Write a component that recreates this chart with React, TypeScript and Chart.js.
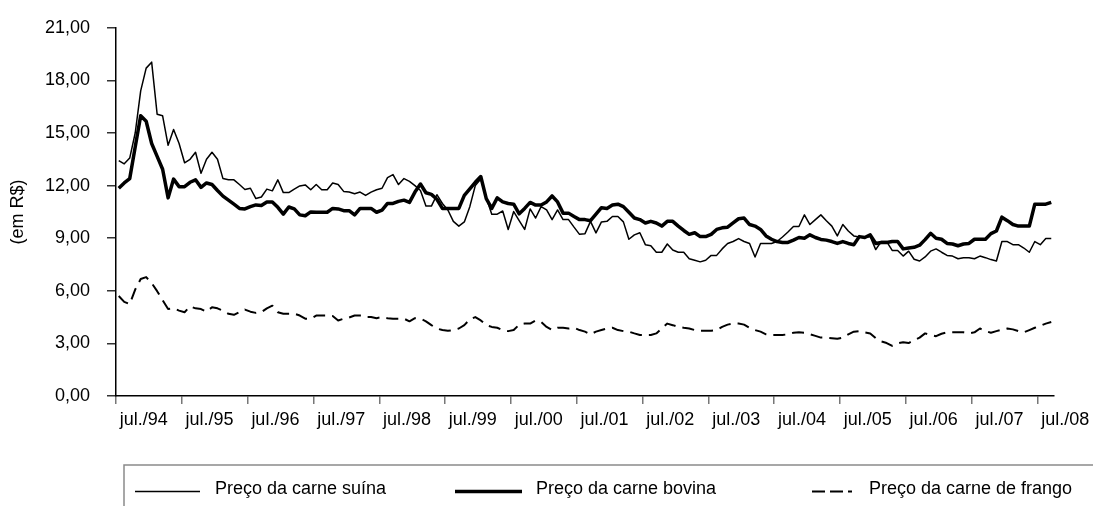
import React, { useEffect, useRef } from 'react';
import { Chart, registerables } from 'chart.js';

Chart.register(...registerables);

// ---- categories (monthly, jul./94 ... set./08) ----
const MONTH_ABBR = ['jan.', 'fev.', 'mar.', 'abr.', 'mai.', 'jun.', 'jul.', 'ago.', 'set.', 'out.', 'nov.', 'dez.'];
const FIRST_MONTH = 6; // julho
const FIRST_YEAR = 1994;
const N_MONTHS = 171;
const categories: string[] = Array.from({ length: N_MONTHS }, (_, i) => {
  const m = (FIRST_MONTH + i) % 12;
  const y = FIRST_YEAR + Math.floor((FIRST_MONTH + i) / 12);
  return `${MONTH_ABBR[m]}/${String(y % 100).padStart(2, '0')}`;
});
const LABEL_EVERY = 12;

// ---- y axis ticks ----
const Y_MIN = 0;
const Y_MAX = 21;
const Y_STEP = 3;
const Y_TITLE = '(em R$)';

// ---- series ----
const SERIES_NAMES = ['Preço da carne suína', 'Preço da carne bovina', 'Preço da carne de frango'];

const suina = [
  13.43, 13.24, 13.57, 15.0, 17.4, 18.7, 19.04, 16.07, 15.98, 14.3, 15.2, 14.4,
  13.3, 13.5, 13.9, 12.7, 13.5, 13.9, 13.5, 12.4, 12.33, 12.33, 12.06, 11.78,
  11.85, 11.26, 11.35, 11.8, 11.7, 12.33, 11.6, 11.6, 11.8, 11.98, 12.04, 11.76,
  12.06, 11.76, 11.76, 12.15, 12.06, 11.67, 11.63, 11.54, 11.63, 11.44, 11.63, 11.76,
  11.85, 12.46, 12.63, 12.06, 12.4, 12.24, 12.0, 11.72, 10.83, 10.83, 11.48, 10.98,
  10.61, 9.96, 9.69, 9.93, 10.8, 12.0, 12.37, 11.3, 10.37, 10.37, 10.55, 9.5,
  10.52, 10.0, 9.5, 10.67, 10.15, 10.8, 10.61, 10.06, 10.61, 10.06, 10.06, 9.63,
  9.22, 9.26, 9.96, 9.3, 9.93, 9.96, 10.24, 10.24, 9.93, 8.94, 9.19, 9.31,
  8.63, 8.57, 8.2, 8.2, 8.67, 8.33, 8.2, 8.2, 7.83, 7.74, 7.65, 7.74,
  8.02, 8.02, 8.39, 8.7, 8.81, 8.98, 8.81, 8.7, 7.93, 8.7, 8.7, 8.7,
  8.81, 9.07, 9.35, 9.67, 9.67, 10.33, 9.78, 10.06, 10.33, 10.0, 9.69, 9.13,
  9.78, 9.41, 9.13, 9.07, 9.04, 9.09, 8.35, 8.81, 8.81, 8.3, 8.3, 7.98,
  8.26, 7.8, 7.7, 7.93, 8.26, 8.39, 8.2, 8.02, 7.98, 7.83, 7.89, 7.89,
  7.83, 7.98, 7.89, 7.78, 7.7, 8.81, 8.81, 8.63, 8.63, 8.44, 8.2, 8.81,
  8.63, 8.98, 8.98,
];

const bovina = [
  11.85, 12.15, 12.4, 14.2, 15.98, 15.67, 14.4, 13.67, 12.93, 11.3, 12.37, 11.94,
  11.94, 12.19, 12.33, 11.9, 12.15, 12.06, 11.72, 11.4, 11.17, 10.94, 10.7, 10.67,
  10.8, 10.9, 10.87, 11.07, 11.07, 10.76, 10.37, 10.78, 10.67, 10.33, 10.28, 10.5,
  10.48, 10.48, 10.48, 10.7, 10.67, 10.57, 10.57, 10.33, 10.7, 10.7, 10.7, 10.48,
  10.6, 10.98, 10.98, 11.1, 11.17, 11.04, 11.63, 12.09, 11.59, 11.5, 11.22, 10.7,
  10.7, 10.7, 10.7, 11.44, 11.81, 12.19, 12.52, 11.26, 10.7, 11.3, 11.07, 10.98,
  10.94, 10.39, 10.7, 11.04, 10.89, 10.89, 11.07, 11.41, 11.07, 10.43, 10.43, 10.24,
  10.06, 10.06, 10.0, 10.37, 10.74, 10.7, 10.89, 10.94, 10.8, 10.48, 10.15, 10.06,
  9.87, 9.96, 9.87, 9.69, 9.96, 9.96, 9.69, 9.44, 9.22, 9.31, 9.09, 9.09,
  9.22, 9.5, 9.59, 9.63, 9.87, 10.11, 10.15, 9.78, 9.69, 9.5, 9.13, 8.94,
  8.81, 8.76, 8.76, 8.89, 9.04, 9.0, 9.19, 9.04, 8.93, 8.89, 8.81, 8.7,
  8.81, 8.7, 8.63, 9.09, 9.04, 9.19, 8.7, 8.76, 8.76, 8.81, 8.81, 8.39,
  8.44, 8.48, 8.6, 8.92, 9.28, 9.0, 8.94, 8.7, 8.67, 8.57, 8.67, 8.7,
  8.94, 8.94, 8.94, 9.26, 9.41, 10.2, 10.0, 9.78, 9.69, 9.69, 9.69, 10.94,
  10.94, 10.94, 11.04,
];

const frango = [
  5.7, 5.37, 5.24, 6.07, 6.67, 6.78, 6.44, 5.98, 5.46, 4.96, 5.0, 4.87,
  4.78, 5.11, 5.0, 4.96, 4.81, 5.06, 5.0, 4.87, 4.69, 4.63, 4.78, 4.93,
  4.81, 4.74, 4.78, 5.0, 5.15, 4.78, 4.69, 4.69, 4.69, 4.59, 4.41, 4.41,
  4.59, 4.59, 4.59, 4.56, 4.31, 4.41, 4.48, 4.59, 4.59, 4.5, 4.5, 4.44,
  4.5, 4.44, 4.41, 4.41, 4.41, 4.26, 4.44, 4.41, 4.26, 4.04, 3.85, 3.76,
  3.72, 3.76, 3.85, 4.04, 4.37, 4.5, 4.31, 4.04, 3.94, 3.89, 3.76, 3.7,
  3.76, 4.07, 4.13, 4.13, 4.31, 4.22, 3.94, 3.76, 3.89, 3.89, 3.85, 3.89,
  3.76, 3.67, 3.52, 3.67, 3.76, 3.85, 3.89, 3.76, 3.7, 3.67, 3.57, 3.48,
  3.48, 3.48, 3.57, 3.85, 4.13, 4.04, 3.94, 3.89, 3.85, 3.76, 3.72, 3.72,
  3.72, 3.76, 3.94, 4.07, 4.13, 4.13, 4.07, 3.89, 3.76, 3.67, 3.52, 3.48,
  3.48, 3.48, 3.52, 3.61, 3.63, 3.61, 3.52, 3.43, 3.33, 3.33, 3.3, 3.26,
  3.33, 3.52, 3.67, 3.7, 3.63, 3.57, 3.3, 3.11, 3.02, 2.86, 3.0, 3.07,
  3.02, 3.18, 3.33, 3.57, 3.48, 3.41, 3.55, 3.63, 3.63, 3.63, 3.63, 3.57,
  3.63, 3.85, 3.7, 3.61, 3.7, 3.78, 3.85, 3.8, 3.7, 3.63, 3.76, 3.89,
  4.0, 4.13, 4.22,
];

const FONT_FAMILY = '"Liberation Sans", Arial, sans-serif';
const FONT_SIZE = 18;

const STYLES = [
  { width: 1.5, dash: [] as number[] },
  { width: 3.5, dash: [] as number[] },
  { width: 2, dash: [12, 7] },
];

// Legend drawn in a framed box below the plot
const boxLegend = {
  id: 'boxLegend',
  afterDraw(chart: any) {
    const ctx: CanvasRenderingContext2D = chart.ctx;
    ctx.save();
    // frame
    ctx.strokeStyle = '#8a8a8a';
    ctx.lineWidth = 1.5;
    ctx.beginPath();
    ctx.moveTo(124, 530);
    ctx.lineTo(124, 465);
    ctx.lineTo(1100, 465);
    ctx.stroke();

    const items = [
      { x0: 135, x1: 200, tx: 215, legendDash: [] as number[] },
      { x0: 455, x1: 522, tx: 536, legendDash: [] as number[] },
      { x0: 812, x1: 852, tx: 869, legendDash: [13, 5] },
    ];
    ctx.font = `${FONT_SIZE}px ${FONT_FAMILY}`;
    ctx.textBaseline = 'alphabetic';
    ctx.textAlign = 'left';
    ctx.fillStyle = '#000';
    items.forEach((it, i) => {
      ctx.strokeStyle = '#000';
      ctx.lineWidth = STYLES[i].width;
      ctx.setLineDash(it.legendDash);
      ctx.beginPath();
      ctx.moveTo(it.x0, 491.5);
      ctx.lineTo(it.x1, 491.5);
      ctx.stroke();
      ctx.setLineDash([]);
      ctx.fillText(SERIES_NAMES[i], it.tx, 494);
    });
    ctx.restore();
  },
};

export default function App() {
  const canvasRef = useRef<HTMLCanvasElement | null>(null);

  useEffect(() => {
    const canvas = canvasRef.current;
    if (!canvas) return;
    const seriesData = [suina, bovina, frango];
    const chart = new Chart(canvas, {
      type: 'line',
      data: {
        labels: categories,
        datasets: seriesData.map((d, i) => ({
          label: SERIES_NAMES[i],
          data: d,
          borderColor: '#000',
          backgroundColor: '#000',
          borderWidth: STYLES[i].width,
          borderDash: STYLES[i].dash,
          pointRadius: 0,
          pointHoverRadius: 0,
          tension: 0,
          fill: false,
          borderJoinStyle: 'round' as const,
        })),
      },
      options: {
        responsive: false,
        animation: false,
        events: [],
        layout: { padding: { left: 0, right: 39, top: 18, bottom: 70 } },
        plugins: {
          legend: { display: false },
          tooltip: { enabled: false },
          title: { display: false },
        },
        scales: {
          x: {
            type: 'category',
            offset: true,
            border: { display: true, color: '#000', width: 1.5 },
            grid: {
              offset: true,
              drawOnChartArea: false,
              drawTicks: true,
              tickLength: 8,
              lineWidth: 1.5,
              color: (ctx: any) => (ctx.index % LABEL_EVERY === 0 ? '#777' : 'rgba(0,0,0,0)'),
            },
            ticks: {
              autoSkip: false,
              maxRotation: 0,
              minRotation: 0,
              padding: 5,
              labelOffset: 25,
              color: '#000',
              font: { family: FONT_FAMILY, size: FONT_SIZE },
              callback: (_v: any, i: number) => (i % LABEL_EVERY === 0 ? categories[i] : ''),
            },
            afterFit: (scale: any) => {
              scale.height = 40;
            },
          },
          y: {
            min: Y_MIN,
            max: Y_MAX,
            border: { display: true, color: '#000', width: 1.5 },
            grid: {
              drawOnChartArea: false,
              drawTicks: true,
              tickLength: 9,
              lineWidth: 1.5,
              color: '#333',
            },
            ticks: {
              stepSize: Y_STEP,
              padding: 17,
              color: '#000',
              font: { family: FONT_FAMILY, size: FONT_SIZE },
              callback: (v: any) => Number(v).toFixed(2).replace('.', ','),
            },
            title: {
              display: true,
              text: Y_TITLE,
              color: '#000',
              font: { family: FONT_FAMILY, size: FONT_SIZE },
              padding: { top: 7, bottom: 0 },
            },
            afterFit: (scale: any) => {
              scale.width = 116;
            },
          },
        },
      },
      plugins: [boxLegend],
    });
    return () => chart.destroy();
  }, []);

  return (
    <div style={{ position: 'fixed', left: 0, top: 0, width: 1093, height: 506, background: '#fff' }}>
      <canvas ref={canvasRef} width={1093} height={506} style={{ display: 'block' }} />
    </div>
  );
}
